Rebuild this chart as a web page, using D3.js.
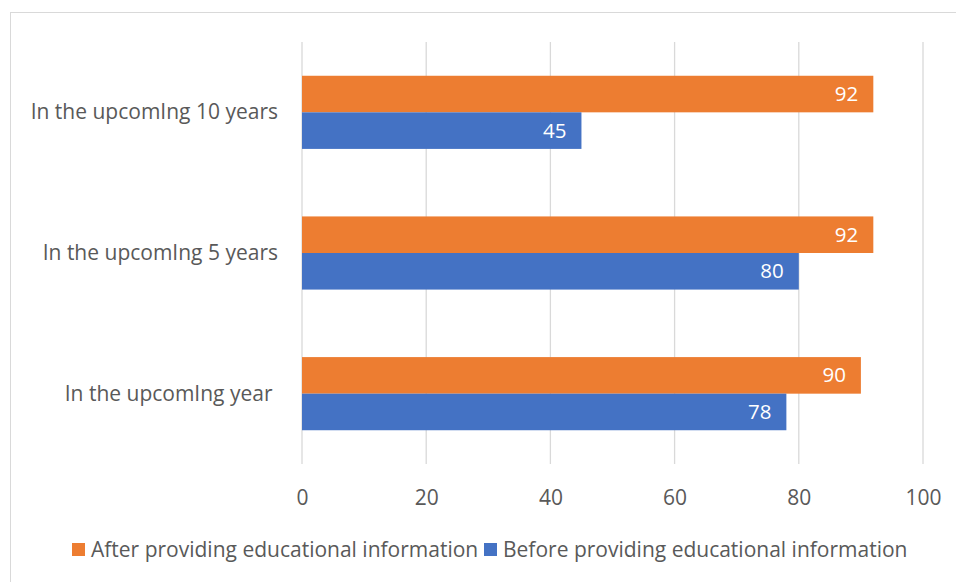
<!DOCTYPE html>
<html>
<head>
<meta charset="utf-8">
<script src="https://cdn.jsdelivr.net/npm/d3@7"></script>
<style>
  body { margin: 0; background: #fff; }
  svg text { font-family: "Open Sans", "Noto Sans", sans-serif; white-space: pre; }
</style>
</head>
<body>
<script>
const categories = ['In the upcomIng 10 years', 'In the upcomIng 5 years', 'In the upcomIng year '];
const seriesNames = ['After providing educational information', 'Before providing educational information'];
const afterValues = [92, 92, 90];
const beforeValues = [45, 80, 78];
const xTicks = [0, 20, 40, 60, 80, 100];
const colors = ['#ED7D31', '#4472C4'];

const svgValues = {
    width: 956,
    height: 582,
    plot: { top: 42, bottom: 464, left: 302, right: 923 }
};

const rows = categories.map((c, i) => ({ cat: c, vals: [afterValues[i], beforeValues[i]] }));

const svg = d3.select('body').append('svg')
    .attr('width', svgValues.width)
    .attr('height', svgValues.height);

// chart frame
svg.append('rect')
    .attr('x', 10.5).attr('y', 12.5)
    .attr('width', 950).attr('height', 580)
    .attr('fill', 'none')
    .attr('stroke', '#d9d9d9');

const xScale = d3.scaleLinear()
    .domain([0, 100])
    .range([svgValues.plot.left, svgValues.plot.right]);

const yScale = d3.scaleBand()
    .domain(categories)
    .range([svgValues.plot.top, svgValues.plot.bottom])
    .paddingInner(0.48)
    .paddingOuter(0.24);

const subScale = d3.scaleBand()
    .domain([0, 1])
    .range([0, yScale.bandwidth()]);

// gridlines
svg.append('g')
    .selectAll('line')
    .data(xTicks)
    .enter()
    .append('line')
    .attr('x1', d => xScale(d)).attr('x2', d => xScale(d))
    .attr('y1', svgValues.plot.top).attr('y2', svgValues.plot.bottom)
    .attr('stroke', '#d9d9d9')
    .attr('stroke-width', 1.3);

// x axis labels
const xAxis = d3.axisBottom(xScale).tickValues(xTicks).tickSize(0).tickPadding(0);
const gx = svg.append('g')
    .attr('transform', 'translate(0,' + (svgValues.plot.bottom + 41) + ')')
    .call(xAxis);
gx.select('.domain').remove();
gx.selectAll('text')
    .attr('font-size', 21)
    .attr('fill', '#595959')
    .attr('font-family', '"Open Sans", sans-serif')
    .attr('dy', 0);

// category labels
svg.append('g')
    .selectAll('text')
    .data(categories)
    .enter()
    .append('text')
    .attr('x', 278)
    .attr('y', d => yScale(d) + yScale.bandwidth() / 2 + 7)
    .attr('text-anchor', 'end')
    .attr('font-size', 21)
    .attr('fill', '#595959')
    .text(d => d);

// bars
const groups = svg.append('g')
    .selectAll('g')
    .data(rows)
    .enter()
    .append('g')
    .attr('transform', d => 'translate(0,' + yScale(d.cat) + ')');

groups.selectAll('rect')
    .data(d => d.vals)
    .enter()
    .append('rect')
    .attr('x', xScale(0))
    .attr('y', (d, i) => subScale(i))
    .attr('width', d => xScale(d) - xScale(0))
    .attr('height', subScale.bandwidth())
    .attr('fill', (d, i) => colors[i]);

groups.selectAll('text')
    .data(d => d.vals)
    .enter()
    .append('text')
    .attr('x', d => xScale(d) - 15)
    .attr('y', (d, i) => subScale(i) + subScale.bandwidth() / 2 + 7)
    .attr('text-anchor', 'end')
    .attr('font-size', 20.5)
    .attr('fill', '#fff')
    .text(d => d);

// legend
const legendX = [72, 484];
const legend = svg.append('g')
    .selectAll('g')
    .data(seriesNames)
    .enter()
    .append('g')
    .attr('transform', (d, i) => 'translate(' + legendX[i] + ',543)');

legend.append('rect')
    .attr('width', 13).attr('height', 13)
    .attr('fill', (d, i) => colors[i]);

legend.append('text')
    .attr('x', 19)
    .attr('y', 13.5)
    .attr('font-size', 21)
    .attr('fill', '#595959')
    .text(d => d);
</script>
</body>
</html>
